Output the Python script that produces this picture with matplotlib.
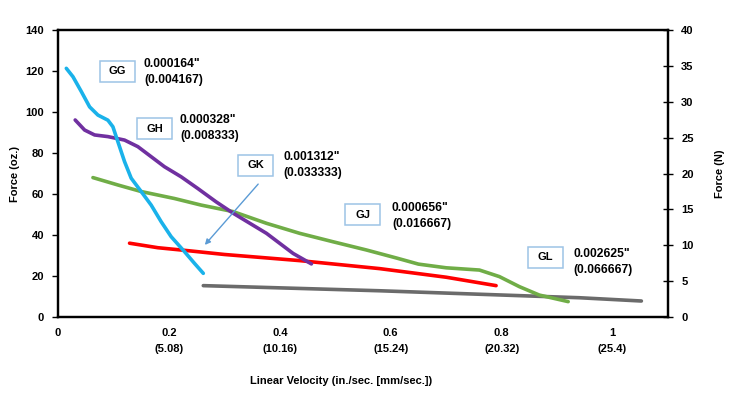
import matplotlib
matplotlib.use("Agg")
import matplotlib.pyplot as plt
from matplotlib.patches import Rectangle, FancyArrowPatch

plt.rcParams['font.family'] = ['Liberation Sans', 'DejaVu Sans']
plt.rcParams['font.weight'] = 'bold'

# Series data (x: in./sec, y: oz.)
gg_x = [0.015, 0.027, 0.042, 0.057, 0.072, 0.090, 0.099, 0.108, 0.120, 0.132, 0.150,
        0.168, 0.186, 0.204, 0.228, 0.246, 0.262]
gg_y = [121.3, 117.2, 110, 102.5, 98.5, 96, 92.8, 85.5, 75.8, 67.7, 61.2,
        54.6, 46.5, 39.2, 31.9, 26.2, 21.3]
gh_x = [0.031, 0.048, 0.066, 0.090, 0.120, 0.144, 0.168, 0.192, 0.222, 0.252, 0.285,
        0.316, 0.376, 0.424, 0.457]
gh_y = [96.1, 91.2, 88.8, 88, 86.3, 83.1, 78.2, 73.3, 68.4, 62.7, 56.2,
        50.6, 40.8, 31, 25.9]
gj_x = [0.063, 0.108, 0.150, 0.210, 0.258, 0.316, 0.376, 0.436, 0.496, 0.556, 0.610,
        0.650, 0.700, 0.760, 0.796, 0.832, 0.868, 0.920]
gj_y = [68, 64.4, 61.2, 57.8, 54.6, 51.4, 45.7, 40.8, 36.7, 32.7, 28.8,
        25.8, 24, 22.9, 19.7, 14.8, 10.7, 7.5]
gk_x = [0.129, 0.180, 0.240, 0.300, 0.436, 0.580, 0.700, 0.790]
gk_y = [36, 33.8, 32.2, 30.5, 27.5, 23.6, 19.4, 15.3]
gl_x = [0.262, 0.580, 0.760, 0.940, 1.052]
gl_y = [15.3, 12.8, 11.1, 9.4, 7.8]

x_ticks = [0, 0.2, 0.4, 0.6, 0.8, 1.0]
x_labels = ["0", "0.2\n(5.08)", "0.4\n(10.16)", "0.6\n(15.24)", "0.8\n(20.32)", "1\n(25.4)"]

series = [
    ("GG", gg_x, gg_y, "#1AB2EA", "0.000164\"\n(0.004167)"),
    ("GH", gh_x, gh_y, "#7030A0", "0.000328\"\n(0.008333)"),
    ("GJ", gj_x, gj_y, "#70AD47", "0.000656\"\n(0.016667)"),
    ("GK", gk_x, gk_y, "#FF0000", "0.001312\"\n(0.033333)"),
    ("GL", gl_x, gl_y, "#6B6B6B", "0.002625\"\n(0.066667)"),
]

fig = plt.figure(figsize=(7.29, 3.94), dpi=100)
ax = fig.add_axes([58/729, 77/394, 610/729, 287/394])

order = ["GL", "GK", "GJ", "GH", "GG"]
sd = {s[0]: s for s in series}
for name in order:
    _, xs, ys, c, _ = sd[name]
    ax.plot(xs, ys, color=c, lw=2.6, solid_capstyle='round', solid_joinstyle='round')

ax.set_xlim(0, 1.1)
ax.set_ylim(0, 140)
ax.set_yticks(range(0, 141, 20))
ax.set_xticks(x_ticks)
ax.set_xticklabels(x_labels, fontsize=8, fontweight='bold', linespacing=1.7)
ax.tick_params(axis='x', length=0, pad=8)
ax.tick_params(axis='y', direction='out', length=4, width=1, labelsize=8, pad=6)
for lab in ax.get_yticklabels():
    lab.set_fontweight('bold')
for sp in ax.spines.values():
    sp.set_linewidth(1.6)
ax.set_ylabel("Force (oz.)", fontsize=8, fontweight='bold', labelpad=4)

ax2 = ax.twinx()
ax2.set_ylim(0, 40)
ax2.set_yticks(range(0, 41, 5))
ax2.tick_params(axis='y', direction='inout', length=7, width=1, labelsize=8, pad=6)
for lab in ax2.get_yticklabels():
    lab.set_fontweight('bold')
for sp in ax2.spines.values():
    sp.set_linewidth(1.6)
ax2.set_ylabel("Force (N)", fontsize=8, fontweight='bold', labelpad=15)

def fx(px):
    return px / 729
def fy(py):
    return 1 - py / 394

fig.text(fx(341), fy(381), "Linear Velocity (in./sec. [mm/sec.])", ha='center', va='center',
         fontsize=8, fontweight='bold')

# label boxes: (box left, box top), (text left, text center y)
boxes = {
    "GG": ((100, 61), (144, 72)),
    "GH": ((137, 118), (180, 128)),
    "GK": ((238, 155), (283, 165)),
    "GJ": ((345, 204), (392, 216)),
    "GL": ((528, 247), (573, 262)),
}
bw, bh = 35, 21
for name, ((bx, by), (tx, ty)) in boxes.items():
    fig.add_artist(Rectangle((fx(bx), fy(by + bh)), bw / 729, bh / 394, transform=fig.transFigure,
                             fc='white', ec='#9DC3E6', lw=1.1, zorder=5))
    fig.text(fx(bx + bw / 2), fy(by + bh / 2), name, ha='center', va='center',
             fontsize=8, fontweight='bold', zorder=6)
    fig.text(fx(tx), fy(ty), sd[name][4], ha='left', va='center',
             fontsize=8.7, fontweight='bold', linespacing=1.45, zorder=6)

fig.add_artist(FancyArrowPatch(
    (fx(260), fy(182)), (fx(203), fy(247)), transform=fig.transFigure,
    arrowstyle='-|>', mutation_scale=8, color='#5B9BD5', lw=1, zorder=7))

fig.savefig("out.png", dpi=100)
